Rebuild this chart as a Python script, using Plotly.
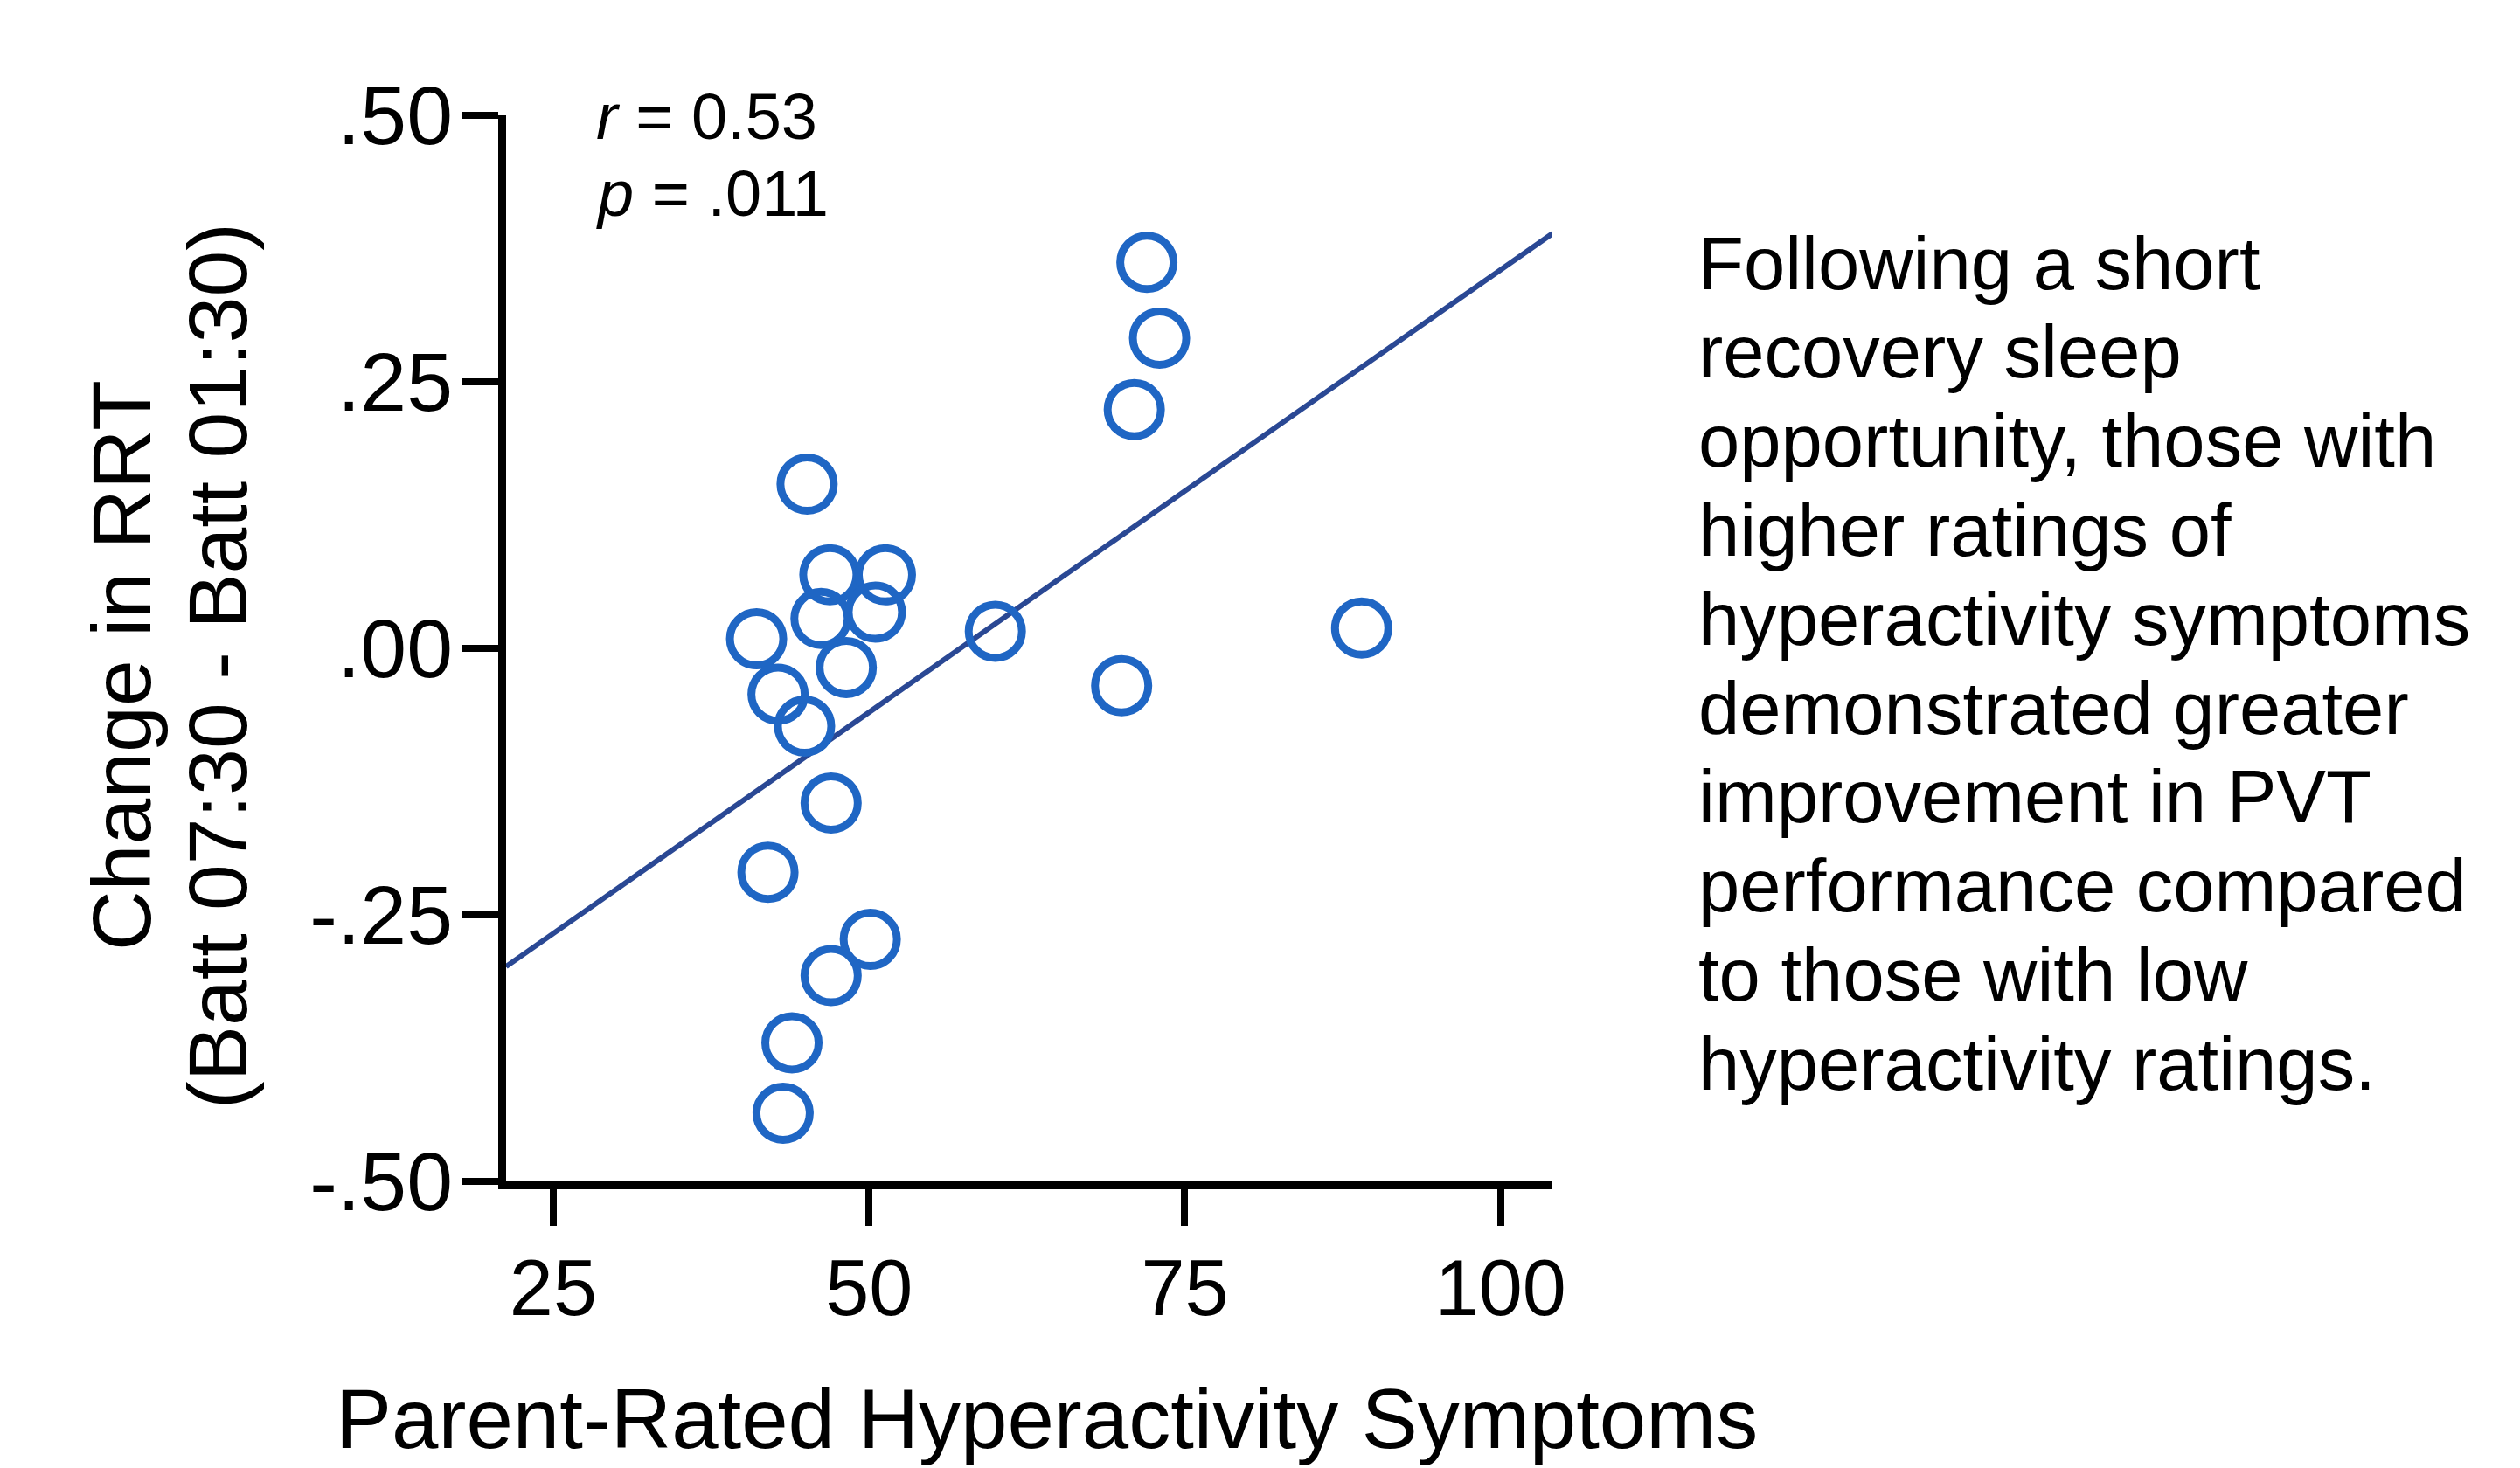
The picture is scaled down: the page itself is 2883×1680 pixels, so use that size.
import numpy as np
import plotly.graph_objects as go

# ---------------- data ----------------
hyperactivity = [72.0, 73.0, 71.0, 45.1, 46.9, 51.3, 46.2, 50.5, 41.1, 60.0, 89.0,
                 48.2, 42.8, 44.9, 70.0, 47.0, 42.0, 50.1, 47.0, 43.9, 43.2]
rrt_change = [0.362, 0.291, 0.224, 0.154, 0.069, 0.069, 0.028, 0.034, 0.009, 0.016, 0.019,
              -0.018, -0.043, -0.073, -0.035, -0.145, -0.210, -0.273, -0.307, -0.370, -0.436]

x_tickvals = [25, 50, 75, 100]
x_ticktext = ["25", "50", "75", "100"]
y_tickvals = [-0.50, -0.25, 0.00, 0.25, 0.50]
y_ticktext = ["-.50", "-.25", ".00", ".25", ".50"]

stats_lines = ["<i>r</i> = 0.53", "<i>p</i> = .011"]
side_text_lines = [
    "Following a short",
    "recovery sleep",
    "opportunity, those with",
    "higher ratings of",
    "hyperactivity symptoms",
    "demonstrated greater",
    "improvement in PVT",
    "performance compared",
    "to those with low",
    "hyperactivity ratings.",
]
x_title = "Parent-Rated Hyperactivity Symptoms"
y_title_lines = ["Change in RRT", "(Batt 07:30 - Batt 01:30)"]

X_RANGE = [21.27, 104.1]
Y_RANGE = [-0.5, 0.5]

# ---------------- layout geometry (pixels) ----------------
W, H = 2883, 1680
PL, PR, PT, PB = 579, 1776, 132, 1352   # plot area edges

def px_x(p):
    return (p - PL) / (PR - PL)

def px_y(p):
    return (PB - p) / (PB - PT)

FONT = "Liberation Sans, Arial, Helvetica, sans-serif"
MARKER_BLUE = "#1f66c4"
LINE_BLUE = "#2a4894"

# regression line from data
slope, intercept = np.polyfit(hyperactivity, rrt_change, 1)
fit_x = np.array(X_RANGE)
fit_y = slope * fit_x + intercept

fig = go.Figure()
fig.add_trace(go.Scatter(
    x=fit_x, y=fit_y, mode="lines",
    line=dict(color=LINE_BLUE, width=6),
    hoverinfo="skip", showlegend=False,
))
fig.add_trace(go.Scatter(
    x=hyperactivity, y=rrt_change, mode="markers",
    marker=dict(symbol="circle", size=61, color="rgba(0,0,0,0)",
                line=dict(color=MARKER_BLUE, width=9)),
    showlegend=False,
))

annotations = []
# stats
stats_y = [134, 222]
for txt, yy in zip(stats_lines, stats_y):
    annotations.append(dict(
        text=txt, xref="paper", yref="paper", x=px_x(680), y=px_y(yy),
        xanchor="left", yanchor="middle", showarrow=False,
        font=dict(family=FONT, size=74, color="black")))

# side text
first_y, step = 301, 101.8
for i, line in enumerate(side_text_lines):
    annotations.append(dict(
        text=line, xref="paper", yref="paper", x=px_x(1941), y=px_y(first_y + i * step),
        xanchor="left", yanchor="middle", showarrow=False,
        font=dict(family=FONT, size=85, color="black")))

# axis titles
annotations.append(dict(
    text=x_title, xref="paper", yref="paper", x=px_x(1197), y=px_y(1624),
    xanchor="center", yanchor="middle", showarrow=False,
    font=dict(family=FONT, size=96, color="black")))
for txt, cx in zip(y_title_lines, [139, 249]):
    annotations.append(dict(
        text=txt, xref="paper", yref="paper", x=px_x(cx), y=px_y(762),
        xanchor="center", yanchor="middle", showarrow=False, textangle=-90,
        font=dict(family=FONT, size=95, color="black")))

fig.update_layout(
    width=W, height=H,
    margin=dict(l=PL, r=W - PR, t=PT, b=H - PB, pad=0),
    paper_bgcolor="white", plot_bgcolor="white",
    font=dict(family=FONT, color="black"),
    annotations=annotations,
    showlegend=False,
)
fig.update_xaxes(
    range=X_RANGE, tickvals=x_tickvals, ticktext=x_ticktext,
    showline=True, linecolor="black", linewidth=9,
    ticks="outside", ticklen=42, tickwidth=8, tickcolor="black",
    showgrid=False, zeroline=False,
    tickfont=dict(family=FONT, size=90, color="black"),
    ticklabelstandoff=-6,
)
fig.update_yaxes(
    range=Y_RANGE, tickvals=y_tickvals, ticktext=y_ticktext,
    showline=True, linecolor="black", linewidth=9,
    ticks="outside", ticklen=42, tickwidth=8, tickcolor="black",
    showgrid=False, zeroline=False,
    tickfont=dict(family=FONT, size=95, color="black"),
    ticklabelstandoff=-9,
)

fig.write_html("out.html")
